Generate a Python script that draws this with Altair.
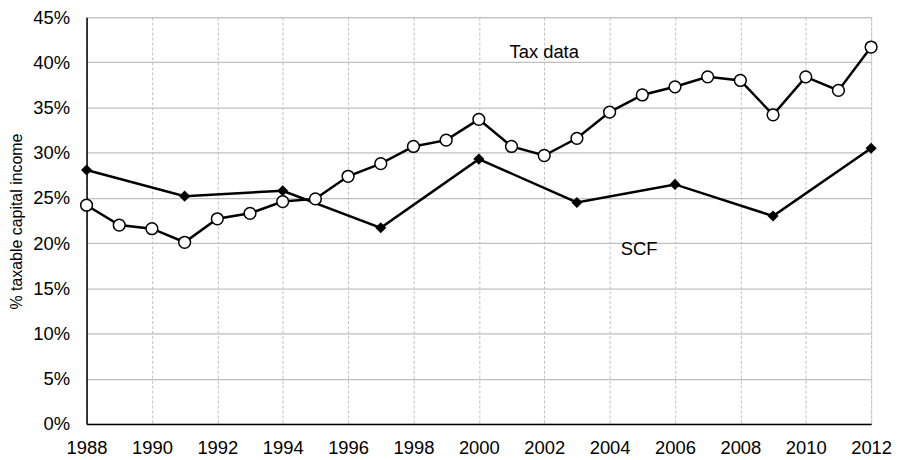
import altair as alt
import pandas as pd

tax_years = list(range(1988, 2013))
tax_values = [24.2, 22.0, 21.6, 20.1, 22.7, 23.3, 24.6, 24.9, 27.4, 28.8, 30.7, 31.4, 33.7,
              30.7, 29.7, 31.6, 34.5, 36.4, 37.3, 38.4, 38.0, 34.2, 38.4, 36.9, 41.7]
scf_years = [1988, 1991, 1994, 1997, 2000, 2003, 2006, 2009, 2012]
scf_values = [28.1, 25.2, 25.8, 21.7, 29.3, 24.5, 26.5, 23.0, 30.5]
label_text = ["Tax data", "SCF"]
label_year = [2002.0, 2004.9]
label_value = [41.2, 19.4]

tax = pd.DataFrame({"year": tax_years, "v": [v / 100 for v in tax_values]})
scf = pd.DataFrame({"year": scf_years, "v": [v / 100 for v in scf_values]})
labels = pd.DataFrame({"t": label_text, "year": label_year, "v": [v / 100 for v in label_value]})

FONT = "Liberation Sans"
xs = alt.Scale(domain=[1988, 2012], nice=False, zero=False)
ys = alt.Scale(domain=[0, 0.45], nice=False)

xenc = alt.X("year:Q", scale=xs, axis=alt.Axis(
    values=list(range(1988, 2013, 2)), format="d", title=None, ticks=False,
    labelFont=FONT, labelFontSize=18.5, labelColor="#000", labelPadding=15,
    domainColor="#000", domainWidth=1.5, grid=True, gridColor="#c0c0c0",
    gridDash=[3, 2], gridWidth=1, labelFlush=False))
yenc = alt.Y("v:Q", scale=ys, axis=alt.Axis(
    values=[i * 0.05 for i in range(10)], format=".0%", title="% taxable capital income",
    ticks=False, labelFont=FONT, labelFontSize=18.5, labelColor="#000", labelPadding=17,
    domainColor="#000", domainWidth=1.5, grid=True, gridColor="#c0c0c0", gridWidth=1.3,
    titleFont=FONT, titleFontSize=16, titleFontWeight="normal", titleColor="#000",
    titleX=-70, titleY=205, titleAngle=-90, titleAlign="center", titleBaseline="middle"))

scf_line = alt.Chart(scf).mark_line(color="#000", strokeWidth=2.5).encode(x=xenc, y=yenc)
scf_pts = alt.Chart(scf).mark_point(shape="diamond", filled=True, color="#000", size=125, opacity=1).encode(x="year:Q", y="v:Q")
tax_line = alt.Chart(tax).mark_line(color="#000", strokeWidth=2.5).encode(x="year:Q", y="v:Q")
tax_pts = alt.Chart(tax).mark_point(shape="circle", filled=True, fill="#fff", stroke="#000",
                                    strokeWidth=1.5, size=140, opacity=1).encode(x="year:Q", y="v:Q")
txt = alt.Chart(labels).mark_text(font=FONT, fontSize=18.5, color="#000", baseline="middle").encode(
    x="year:Q", y="v:Q", text="t:N")

chart = alt.layer(scf_line, scf_pts, tax_line, tax_pts, txt).properties(
    width=789, height=409,
    autosize=alt.AutoSizeParams(type="none"),
    padding={"left": 79, "top": 8, "right": 22, "bottom": 34},
).configure_view(stroke=None).configure(background="#fff")

chart.save("out.html", embed_options={"renderer": "svg", "actions": False})
